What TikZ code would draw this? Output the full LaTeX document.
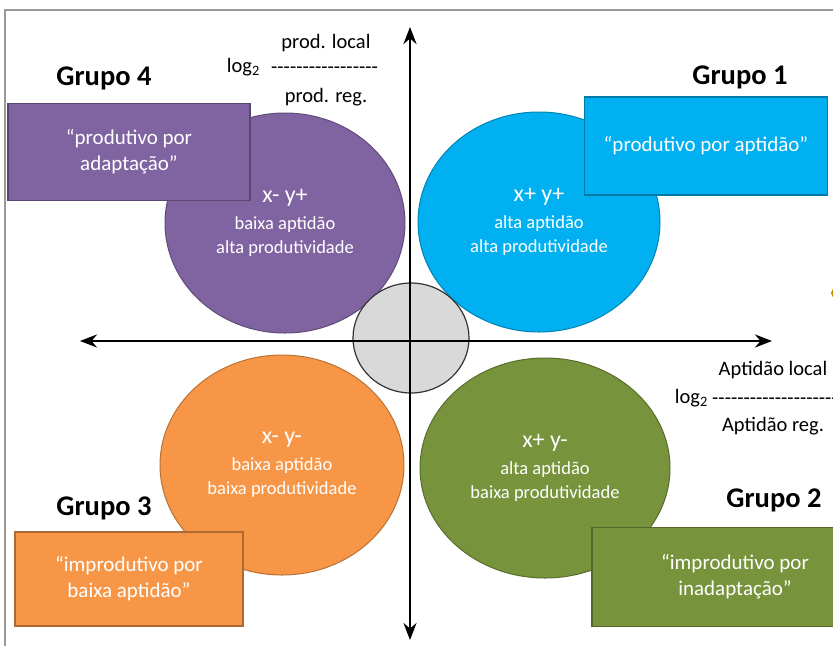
\documentclass[tikz,border=0pt]{standalone}
\usepackage{fontspec}
\setmainfont{Carlito}
\usepackage{xcolor}
\usepackage{tikz}
\usetikzlibrary{shapes.geometric, arrows.meta, positioning}
\definecolor{grpPurple}{HTML}{8064A2}
\definecolor{grpBlue}{HTML}{00B0F0}
\definecolor{grpOrange}{HTML}{F79646}
\definecolor{grpGreen}{HTML}{77933C}
\definecolor{hubGray}{HTML}{D9D9D9}
\definecolor{dotGold}{HTML}{C09000}
\tikzset{
  zone/.style={ellipse, inner sep=0pt, line width=1pt, align=center,
               text=white, font=\fontsize{18.5}{24}\selectfont},
  zonepurple/.style={zone, fill=grpPurple, draw=grpPurple!75!black},
  zoneblue/.style={zone, fill=grpBlue, draw=grpBlue!75!black},
  zoneorange/.style={zone, fill=grpOrange, draw=grpOrange!75!black},
  zonegreen/.style={zone, fill=grpGreen, draw=grpGreen!75!black},
  hub/.style={ellipse, fill=hubGray, draw=black!80, line width=1.2pt,
              minimum width=116pt, minimum height=110pt},
  tag/.style={rectangle, inner sep=0pt, line width=1.5pt, align=center,
              text=white, font=\fontsize{21}{26}\selectfont},
  tagpurple/.style={tag, fill=grpPurple, draw=grpPurple!70!black},
  tagblue/.style={tag, fill=grpBlue, draw=grpBlue!70!black},
  tagorange/.style={tag, fill=grpOrange, draw=grpOrange!70!black},
  taggreen/.style={tag, fill=grpGreen, draw=grpGreen!70!black},
  grupo/.style={font=\fontsize{28.5}{32}\selectfont\bfseries},
  ratio/.style={inner sep=0pt, font=\fontsize{20.5}{24}\selectfont},
  axis/.style={{Stealth[length=17pt,width=13pt]}-{Stealth[length=17pt,width=13pt]},
               line width=2.7pt},
  frame/.style={draw=black!40, line width=2pt},
}
\newcommand{\zonehead}[1]{{\fontsize{24}{28}\selectfont #1}\\[3pt]}
\newcommand{\hyphenrow}[1]{\foreach \k in {1,...,#1}{-}}

\begin{document}
\begin{tikzpicture}[x=1pt, y=-1pt]
  \useasboundingbox (0,0) rectangle (833,646);
  \draw[frame] (5,646) -- (5,10) -- (833,10);

  % quadrants
  \node[zonepurple, minimum width=240pt, minimum height=220pt] (q4) at (285,223)
    {\zonehead{x- y+}baixa aptidão\\alta produtividade};
  \node[zoneblue, minimum width=242pt, minimum height=220pt] (q1) at (539,222)
    {\zonehead{x+ y+}alta aptidão\\alta produtividade};
  \node[zoneorange, minimum width=244pt, minimum height=220pt] (q3) at (282,465)
    {\zonehead{x- y-}baixa aptidão\\baixa produtividade};
  \node[zonegreen, minimum width=250pt, minimum height=220pt] (q2) at (545,468)
    {\zonehead{x+ y-}alta aptidão\\baixa produtividade};

  \node[hub] (hub) at (411,338) {};

  % axes
  \coordinate (xleft) at (80,341);
  \coordinate (xright) at (772,341);
  \coordinate (ybot) at (410,640);
  \coordinate (ytop) at (410,27);
  \draw[axis] (xleft) -- (xright);
  \draw[axis] (ybot) -- (ytop);

  % group boxes
  \node[tagpurple, minimum width=242pt, minimum height=97pt] (t4) at (129,152)
    {“produtivo por\\adaptação”};
  \node[tagblue, minimum width=243pt, minimum height=98pt] (t1) at (706,146)
    {“produtivo por aptidão”};
  \node[tagorange, minimum width=228pt, minimum height=94pt] (t3) at (129,579)
    {“improdutivo por\\baixa aptidão”};
  \node[taggreen, minimum width=286pt, minimum height=99pt] (t2) at (735,577)
    {“improdutivo por\\inadaptação”};

  \node[grupo] (g4) at (104,78) {Grupo 4};
  \node[grupo] (g1) at (740,77) {Grupo 1};
  \node[grupo] (g3) at (104,508) {Grupo 3};
  \node[grupo] (g2) at (774,500) {Grupo 2};

  % ratio labels
  \node[ratio] (prodloc) at (326,43) {prod. local};
  \node[ratio, anchor=west] (prodbar) at (271,70) {\hyphenrow{17}};
  \node[ratio, anchor=east] (prodlog) at (260,67) {log\textsubscript{2}};
  \node[ratio] (prodreg) at (326,97) {prod. reg.};

  \node[ratio] (aptloc) at (773,370) {Aptidão local};
  \node[ratio, anchor=west] (aptbar) at (712,401) {\hyphenrow{20}};
  \node[ratio, anchor=east] (aptlog) at (708,398) {log\textsubscript{2}};
  \node[ratio] (aptreg) at (773,426) {Aptidão reg.};

  \fill[dotGold] (836,293) circle (5pt);
\end{tikzpicture}
\end{document}
